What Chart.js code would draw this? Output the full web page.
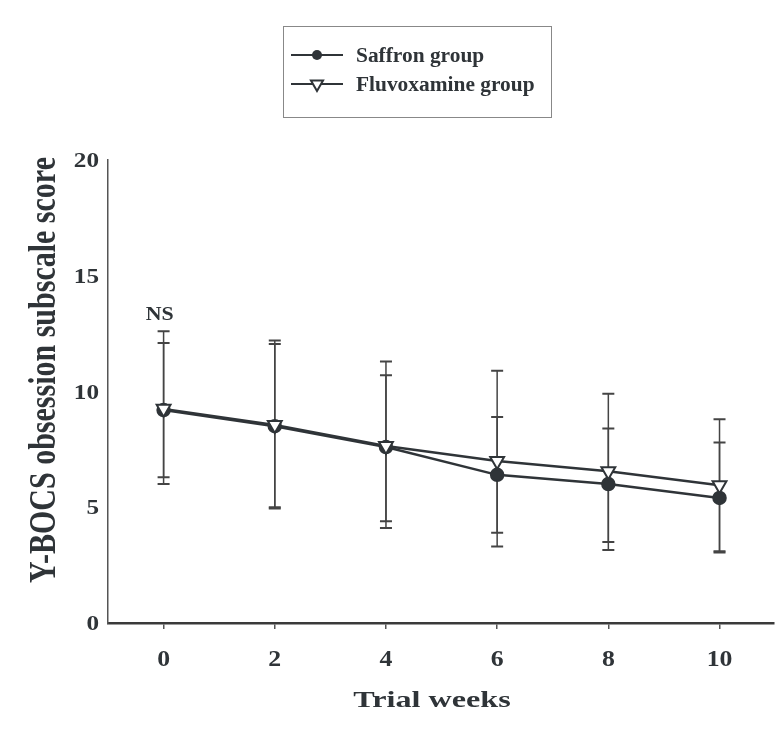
<!DOCTYPE html>
<html>
<head>
<meta charset="utf-8">
<script src="https://cdn.jsdelivr.net/npm/chart.js@4.4.1/dist/chart.umd.min.js"></script>
<style>
  html, body { margin: 0; background: #fff; overflow: hidden; }
  #wrap { width: 784px; height: 730px; }
  canvas { display: block; }
</style>
</head>
<body>
<div id="wrap"><canvas id="chart-1" width="784" height="730"></canvas></div>
<script>
// trial weeks and mean +/- SD
const weeks = [0, 2, 4, 6, 8, 10];
const saffronMean  = [9.2, 8.5, 7.6, 6.4, 6.0, 5.4];
const saffronUpper = [12.6, 12.2, 10.7, 8.9, 8.4, 7.8];
const saffronLower = [6.0, 5.0, 4.4, 3.9, 3.5, 3.1];
const fluvoxMean  = [9.25, 8.55, 7.65, 7.0, 6.55, 5.95];
const fluvoxUpper = [12.1, 12.05, 11.3, 10.9, 9.9, 8.8];
const fluvoxLower = [6.3, 4.95, 4.1, 3.3, 3.15, 3.05];
const yTicks = [0, 5, 10, 15, 20];

const ink = '#2f3438';
const serif = "'Liberation Serif', 'Times New Roman', serif";

const errBars = [
  { upper: saffronUpper, lower: saffronLower },
  { upper: fluvoxUpper, lower: fluvoxLower }
];

// the scanned figure is a bit wider than tall, so text gets a horizontal stretch
function text(ctx, str, x, y, size, sx, align, base) {
  ctx.save();
  ctx.translate(x, y);
  ctx.scale(sx, 1);
  ctx.font = 'bold ' + size + 'px ' + serif;
  ctx.textAlign = align;
  ctx.textBaseline = base;
  ctx.fillStyle = ink;
  ctx.fillText(str, 0, 0);
  ctx.restore();
}

function marker(ctx, style, x, y, r) {
  ctx.beginPath();
  if (style === 'circle') {
    ctx.arc(x, y, r, 0, Math.PI * 2);
    ctx.fillStyle = ink;
    ctx.fill();
  } else {
    // downward triangle
    ctx.moveTo(x, y + r);
    ctx.lineTo(x - r * 0.866, y - r * 0.5);
    ctx.lineTo(x + r * 0.866, y - r * 0.5);
    ctx.closePath();
    ctx.fillStyle = '#fff';
    ctx.fill();
    ctx.lineWidth = 2;
    ctx.strokeStyle = ink;
    ctx.stroke();
  }
}

const overlay = {
  id: 'overlay',
  beforeDatasetsDraw(chart) {
    const ctx = chart.ctx, xs = chart.scales.x, ys = chart.scales.y;
    ctx.save();
    ctx.strokeStyle = '#444';
    errBars.forEach(eb => {
      weeks.forEach((w, i) => {
        const x = xs.getPixelForValue(w);
        const yt = ys.getPixelForValue(eb.upper[i]);
        const yb = ys.getPixelForValue(eb.lower[i]);
        ctx.lineWidth = 1.5;
        ctx.beginPath();
        ctx.moveTo(x, yt); ctx.lineTo(x, yb);
        ctx.stroke();
        ctx.lineWidth = 2;
        ctx.beginPath();
        ctx.moveTo(x - 6, yt); ctx.lineTo(x + 6, yt);
        ctx.moveTo(x - 6, yb); ctx.lineTo(x + 6, yb);
        ctx.stroke();
      });
    });
    ctx.restore();
  },
  afterDraw(chart) {
    const ctx = chart.ctx, xs = chart.scales.x, ys = chart.scales.y;
    ctx.save();
    // legend box
    ctx.strokeStyle = '#888';
    ctx.lineWidth = 1;
    ctx.strokeRect(283.5, 26.5, 268, 91);
    const items = chart.data.datasets;
    [55, 84].forEach((y, i) => {
      ctx.strokeStyle = ink;
      ctx.lineWidth = 2;
      ctx.beginPath();
      ctx.moveTo(291, y); ctx.lineTo(343, y);
      ctx.stroke();
      marker(ctx, items[i].pointStyle === 'circle' ? 'circle' : 'tri', 317, y, i === 0 ? 5 : 7);
      text(ctx, items[i].label, 356, y + 7, 20, 1.07, 'left', 'alphabetic');
    });
    // tick labels
    weeks.forEach(w => text(ctx, String(w), xs.getPixelForValue(w), 666, 23, 1.12, 'center', 'alphabetic'));
    yTicks.forEach(v => text(ctx, String(v), 99, ys.getPixelForValue(v) + 7, 21, 1.2, 'right', 'alphabetic'));
    // NS label over week 0
    text(ctx, 'NS', xs.getPixelForValue(0) - 4, ys.getPixelForValue(13.1), 19, 1.15, 'center', 'alphabetic');
    // axis titles
    text(ctx, 'Trial weeks', 432, 707, 24, 1.34, 'center', 'alphabetic');
    ctx.translate(55, 370);
    ctx.scale(1.23, 1);
    ctx.rotate(-Math.PI / 2);
    ctx.font = 'bold 30px ' + serif;
    ctx.fillStyle = ink;
    ctx.textAlign = 'center';
    ctx.textBaseline = 'alphabetic';
    ctx.fillText('Y-BOCS obsession subscale score', 0, 0);
    ctx.restore();
  }
};

const ctx1 = document.getElementById('chart-1');

new Chart(ctx1, {
  type: 'line',
  data: {
    datasets: [{
      label: 'Saffron group',
      data: weeks.map((w, i) => ({ x: w, y: saffronMean[i] })),
      borderColor: ink,
      borderWidth: 2.5,
      pointStyle: 'circle',
      pointRadius: 6,
      pointBackgroundColor: ink,
      pointBorderColor: ink,
      order: 1
    }, {
      label: 'Fluvoxamine group',
      data: weeks.map((w, i) => ({ x: w, y: fluvoxMean[i] })),
      borderColor: ink,
      borderWidth: 2.5,
      pointStyle: 'triangle',
      pointRotation: 180,
      pointRadius: 8,
      pointBorderWidth: 2,
      pointBackgroundColor: '#fff',
      pointBorderColor: ink,
      order: 0
    }]
  },
  options: {
    responsive: false,
    animation: false,
    layout: { padding: { left: 108, right: 0, top: 160, bottom: 101 } },
    plugins: { legend: { display: false }, tooltip: { enabled: false } },
    scales: {
      x: {
        type: 'linear',
        min: -1,
        max: 10.98,
        afterBuildTicks: axis => { axis.ticks = weeks.map(v => ({ value: v })); },
        grid: { drawOnChartArea: false, drawTicks: true, tickLength: 6, color: '#555', lineWidth: 1.5 },
        border: { display: true, color: '#3a3a3a', width: 2.5 },
        ticks: { display: false }
      },
      y: {
        min: 0,
        max: 20,
        afterBuildTicks: axis => { axis.ticks = yTicks.map(v => ({ value: v })); },
        grid: { display: false, drawTicks: false },
        border: { display: true, color: '#555', width: 1.5 },
        ticks: { display: false }
      }
    }
  },
  plugins: [overlay]
});
</script>
</body>
</html>
